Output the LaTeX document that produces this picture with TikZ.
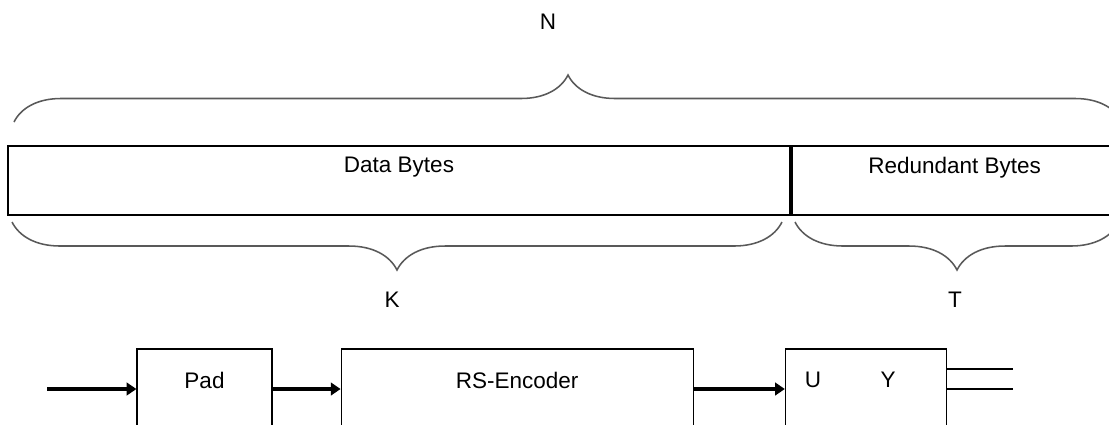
\documentclass[tikz,border=0pt]{standalone}
\usepackage{fontspec}
\setmainfont{Liberation Sans}
\usetikzlibrary{positioning,arrows.meta,decorations.pathreplacing}

\begin{document}
\begin{tikzpicture}[x=0.025cm,y=-0.025cm,font=\fontsize{16}{19}\selectfont]
    % Define block styles
    \tikzstyle{field} = [rectangle, draw, line width=1.4pt, minimum height=1.725cm,
        inner sep=0pt, text depth=22pt]
    \tikzstyle{block} = [rectangle, draw, line width=0.8pt, minimum height=2cm,
        inner sep=0pt, text depth=12pt]
    \tikzstyle{line} = [draw, line width=3.4pt, -{Triangle[length=7pt,width=9pt]}]
    \tikzstyle{wire} = [draw, line width=0.8pt]
    \tikzstyle{brace} = [draw, black!65, line width=1.1pt, decorate]

    \useasboundingbox (0,0) rectangle (1109,424);

    % Place nodes
    \node [field, minimum width=19.55cm] (data) at (399,180.5) {Data Bytes};
    \node [field, minimum width=8.125cm, right=0pt of data] (red) {Redundant Bytes};
    \node (n) at (548,22) {N};
    \node (k) at (392,300) {K};
    \node (t) at (955,300) {T};

    \node [block, minimum width=3.375cm] (pad) at (204.5,389) {Pad};
    \node [block, minimum width=8.8cm, right=1.7cm of pad] (enc) {RS-Encoder};
    \node [block, minimum width=4.025cm, right=2.275cm of enc] (uy) {};
    \node (u) at (813,380) {U};
    \node (y) at (888,380) {Y};

    \coordinate (in) at (47,389);
    \coordinate (out1) at (1013,369);
    \coordinate (out2) at (1013,389);

    % Draw braces
    \draw [brace, decoration={brace, amplitude=1.175cm}] (14,122) -- (1122,122);
    \draw [brace, decoration={brace, mirror, amplitude=1.2cm}] (12,222) -- (782,222);
    \draw [brace, decoration={brace, mirror, amplitude=1.2cm}] (795,222) -- (1119,222);

    % Draw arrows
    \path [line] (in) -- (pad);
    \path [line] (pad) -- (enc);
    \path [line] (enc) -- (uy);
    \path [wire] (uy.east |- out1) -- (out1);
    \path [wire] (uy.east |- out2) -- (out2);

\end{tikzpicture}
\end{document}
